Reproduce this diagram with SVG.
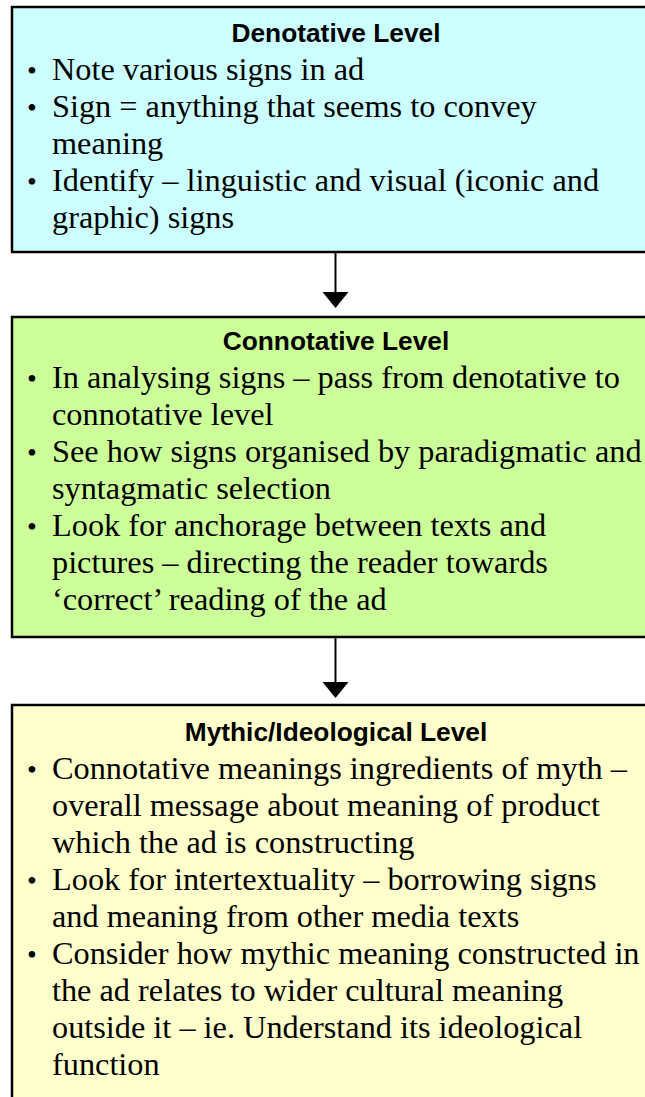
<svg xmlns="http://www.w3.org/2000/svg" width="645" height="1097" viewBox="0 0 645 1097">
<style>
.box{stroke:#000;stroke-width:2.5}
.title{font-family:"Liberation Sans",Arial,sans-serif;font-weight:bold;font-size:26.3px;text-anchor:middle;fill:#000}
.body{font-family:"Liberation Serif","Times New Roman",serif;font-size:32.3px;fill:#000}
.bul{font-family:"Liberation Serif","Times New Roman",serif;font-size:28px;fill:#000}
.conn{stroke:#000;stroke-width:2;fill:none}
.head{fill:#000}
</style>
<rect width="645" height="1097" fill="#fff"/>
<g id="denotative">
<rect class="box" x="12" y="7" width="660" height="245" fill="#CCFFFF"/>
<text class="title" x="336" y="42">Denotative Level</text>
<text class="bul"><tspan x="27" y="80">•</tspan><tspan x="27" y="117">•</tspan><tspan x="27" y="191">•</tspan></text>
<text class="body"><tspan x="52" y="80">Note various signs in ad</tspan><tspan x="52" y="117">Sign = anything that seems to convey</tspan><tspan x="52" y="154">meaning</tspan><tspan x="52" y="191">Identify – linguistic and visual (iconic and</tspan><tspan x="52" y="228">graphic) signs</tspan></text>
</g>
<g id="connotative">
<rect class="box" x="12" y="317" width="660" height="320" fill="#CCFF99"/>
<text class="title" x="336" y="350">Connotative Level</text>
<text class="bul"><tspan x="27" y="388">•</tspan><tspan x="27" y="462">•</tspan><tspan x="27" y="536">•</tspan></text>
<text class="body"><tspan x="52" y="388">In analysing signs – pass from denotative to</tspan><tspan x="52" y="425">connotative level</tspan><tspan x="52" y="462">See how signs organised by paradigmatic and</tspan><tspan x="52" y="499">syntagmatic selection</tspan><tspan x="52" y="536">Look for anchorage between texts and</tspan><tspan x="52" y="573">pictures – directing the reader towards</tspan><tspan x="52" y="610">‘correct’ reading of the ad</tspan></text>
</g>
<g id="mythic">
<rect class="box" x="12" y="705" width="660" height="420" fill="#FFFFCC"/>
<text class="title" x="336" y="741">Mythic/Ideological Level</text>
<text class="bul"><tspan x="27" y="779">•</tspan><tspan x="27" y="890">•</tspan><tspan x="27" y="964">•</tspan></text>
<text class="body"><tspan x="52" y="779">Connotative meanings ingredients of myth –</tspan><tspan x="52" y="816">overall message about meaning of product</tspan><tspan x="52" y="853">which the ad is constructing</tspan><tspan x="52" y="890">Look for intertextuality – borrowing signs</tspan><tspan x="52" y="927">and meaning from other media texts</tspan><tspan x="52" y="964">Consider how mythic meaning constructed in</tspan><tspan x="52" y="1001">the ad relates to wider cultural meaning</tspan><tspan x="52" y="1038">outside it – ie. Understand its ideological</tspan><tspan x="52" y="1075">function</tspan></text>
</g>
<g id="connectors">
<line class="conn" x1="335.5" y1="252" x2="335.5" y2="293"/>
<polygon class="head" points="322.5,292 348.5,292 335.5,308"/>
<line class="conn" x1="335.5" y1="638" x2="335.5" y2="683"/>
<polygon class="head" points="322.5,682 348.5,682 335.5,698"/>
</g>
</svg>
